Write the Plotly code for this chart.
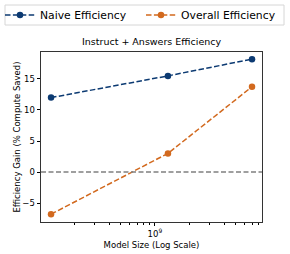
import plotly.graph_objects as go

model_sizes = [1.25e8, 1.3e9, 7e9]
naive_eff = [12.0, 15.5, 18.2]
overall_eff = [-6.8, 3.0, 13.75]
series_names = ["Naive Efficiency", "Overall Efficiency"]
title_text = "Instruct + Answers Efficiency"
x_label = "Model Size (Log Scale)"
y_label = "Efficiency Gain (% Compute Saved)"
y_ticks = [-5, 0, 5, 10, 15]
x_major = [1e9]
x_minor = [2e8, 3e8, 4e8, 5e8, 6e8, 7e8, 8e8, 9e8, 2e9, 3e9, 4e9, 5e9, 6e9, 7e9, 8e9]

blue = "#0c3a72"
orange = "#d2691e"
font = "DejaVu Sans"

fig = go.Figure()
fig.add_trace(go.Scatter(x=model_sizes, y=naive_eff, name=series_names[0], mode="lines+markers",
                         line=dict(color=blue, width=1.5, dash="5.5px,2.4px"),
                         marker=dict(color=blue, size=6.5), legend="legend"))
fig.add_trace(go.Scatter(x=model_sizes, y=overall_eff, name=series_names[1], mode="lines+markers",
                         line=dict(color=orange, width=1.5, dash="5.5px,2.4px"),
                         marker=dict(color=orange, size=6.5), legend="legend2"))
fig.add_shape(type="line", xref="paper", x0=0, x1=1, y0=0, y1=0,
              line=dict(color="gray", width=1.3, dash="5px,2.5px"))
# legend frame spanning both legend groups
fig.add_shape(type="rect", xref="paper", yref="paper",
              x0=-36 / 221, x1=243 / 221, y0=197 / 170, y1=217 / 170,
              line=dict(color="#d6d6d6", width=1), fillcolor="rgba(255,255,255,0)", layer="below")

leg_common = dict(orientation="h", xref="container", yref="container",
                  xanchor="left", yanchor="middle", y=1 - 15 / 254,
                  borderwidth=0, bgcolor="rgba(0,0,0,0)",
                  font=dict(size=10.8, family=font), itemwidth=30)

fig.update_layout(
    width=290, height=254,
    margin=dict(l=41, r=28, t=52, b=32, autoexpand=False),
    paper_bgcolor="white", plot_bgcolor="white",
    font=dict(family=font, color="black", size=8),
    showlegend=True,
    legend=dict(x=-1 / 290, **leg_common),
    legend2=dict(x=141 / 290, **leg_common),
    annotations=[dict(text=title_text, x=0.5, y=1.02, xref="paper", yref="paper",
                      xanchor="center", yanchor="bottom", showarrow=False,
                      font=dict(size=9.5, family=font))],
)
fig.update_xaxes(type="log", range=[8.0096, 9.932],
                 tickvals=x_major, ticktext=["10<sup>9</sup>"],
                 ticks="outside", ticklen=3.5, tickwidth=0.8, tickcolor="black",
                 minor=dict(tickvals=x_minor, ticks="outside", ticklen=2, tickwidth=0.6, tickcolor="black"),
                 showline=True, linecolor="#333", linewidth=0.8, mirror=True,
                 showgrid=False, zeroline=False,
                 title=dict(text=x_label, font=dict(size=8.5, family=font), standoff=4),
                 tickfont=dict(size=8.5))
fig.update_yaxes(range=[-8.06, 19.35], tickvals=y_ticks,
                 ticktext=["\u22125", "0", "5", "10", "15"],
                 ticks="outside", ticklen=3.5, tickwidth=0.8, tickcolor="black",
                 showline=True, linecolor="#333", linewidth=0.8, mirror=True,
                 showgrid=False, zeroline=False,
                 title=dict(text=y_label, font=dict(size=8.5, family=font), standoff=0),
                 tickfont=dict(size=8.5))

fig.write_html("out.html", config={"displayModeBar": False},
               post_script="document.body.style.margin='0px';document.body.style.overflow='hidden';")
